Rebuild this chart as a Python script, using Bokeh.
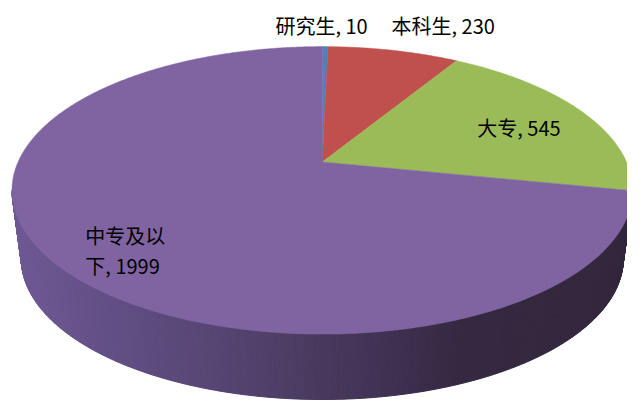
import numpy as np
from bokeh.plotting import figure
from bokeh.models import Range1d, ColumnDataSource
from bokeh.core.properties import value
from bokeh.embed import file_html
from bokeh.resources import INLINE

# ---- data ----
categories = ["研究生", "本科生", "大专", "中专及以下"]
values = [10, 230, 545, 1999]
colors = ["#4F81BD", "#C0504D", "#9BBB59", "#8064A2"]

# ---- label layout (chart pixels, left / vertical centre) ----
label_lines = ["研究生, 10", "本科生, 230", "大专, 545", "中专及以\n下, 1999"]
label_x = [282, 401, 489, 87]
label_y = [26, 26, 132, 260]

# ---- 3D perspective projection of the pie disk ----
CX, CY = 330.0, 168.0
A, B, K = 312.0, 143.7, -0.197       # top face
A2, B2, D = 0.97 * A, 0.98 * B, 71.6  # bottom rim


def proj_top(u, v):
    w = 1 + K * v
    return CX + A * u / w, CY + B * v / w


def proj_bot(u, v):
    w = 1 + K * v
    return CX + A2 * u / w, CY + D + B2 * v / w


total = float(sum(values))
cum = np.concatenate([[0.0], np.cumsum(values)]) / total * 2 * np.pi

W, H = 627, 400
p = figure(width=W, height=H, output_backend="svg", toolbar_location=None,
           x_range=Range1d(0, 643), y_range=Range1d(416, 0),
           x_axis_location=None, y_axis_location=None, min_border=0,
           background_fill_color="white", border_fill_color="white")
p.grid.visible = False
p.outline_line_color = None

# ---- side wall (visible front part, horizontal shading) ----
v_sil = -K  # silhouette point of the projected ellipse
phi_r = np.arccos(-v_sil)
phi_l = 2 * np.pi - phi_r
phis = np.linspace(phi_r, phi_l, 300)
tu, tv = np.sin(phis), -np.cos(phis)
txs, tys = proj_top(tu, tv)
bxs, bys = proj_bot(tu, tv)

stops_x = [12, 100, 200, 330, 420, 470, 560, 650]
stops_c = [(0x6F, 0x5A, 0x95), (0x63, 0x50, 0x86), (0x59, 0x47, 0x77),
           (0x48, 0x3A, 0x5E), (0x3C, 0x2F, 0x4E), (0x36, 0x29, 0x42),
           (0x34, 0x28, 0x3F), (0x33, 0x27, 0x3E)]


def shade(x):
    r = int(np.interp(x, stops_x, [c[0] for c in stops_c]))
    g = int(np.interp(x, stops_x, [c[1] for c in stops_c]))
    b = int(np.interp(x, stops_x, [c[2] for c in stops_c]))
    return "#%02x%02x%02x" % (r, g, b)


sx, sy, sc = [], [], []
for i in range(len(phis) - 1):
    sx.append([txs[i], txs[i + 1], bxs[i + 1], bxs[i]])
    sy.append([tys[i], tys[i + 1], bys[i + 1], bys[i]])
    sc.append(shade((txs[i] + txs[i + 1]) / 2))
p.patches(sx, sy, fill_color=sc, line_color=sc, line_width=1)

# ---- top face wedges ----
wx, wy = [], []
for i in range(len(values)):
    n = max(int(np.degrees(cum[i + 1] - cum[i])) * 2, 4)
    phi = np.linspace(cum[i], cum[i + 1], n)
    xs, ys = proj_top(np.sin(phi), -np.cos(phi))
    wx.append([CX] + list(xs))
    wy.append([CY] + list(ys))
p.patches(wx, wy, fill_color=colors, line_color=colors, line_width=0.5)

# ---- labels ----
src = ColumnDataSource(dict(x=label_x, y=label_y, t=label_lines))
p.text(x="x", y="y", text="t", source=src, text_font=value("Noto Sans CJK SC"),
       text_font_size="20px", text_color="#000000", text_align="left",
       text_baseline="middle", text_line_height=1.06)

open("out.html", "w").write(file_html(p, INLINE))
